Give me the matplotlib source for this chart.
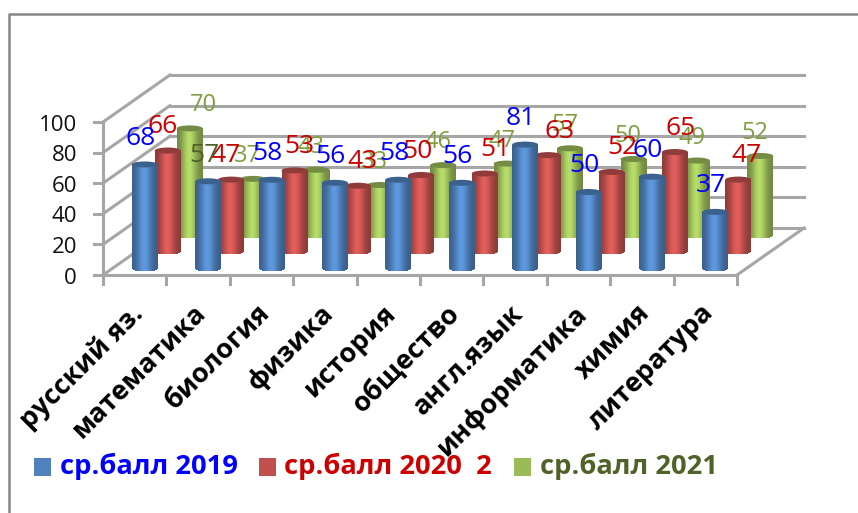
import numpy as np
import matplotlib
matplotlib.use('Agg')
import matplotlib.pyplot as plt
from matplotlib.transforms import Affine2D
from matplotlib.patches import Rectangle, Ellipse
from matplotlib.colors import to_rgb

plt.rcParams['font.family'] = ['Open Sans', 'DejaVu Sans']

categories = ['русский яз.', 'математика', 'биология', 'физика', 'история',
              'общество', 'англ.язык', 'информатика', 'химия', 'литература']
scores_2019 = [68, 57, 58, 56, 58, 56, 81, 50, 60, 37]
scores_2020 = [66, 47, 53, 43, 50, 51, 63, 52, 65, 47]
scores_2021 = [70, 37, 43, 33, 46, 47, 57, 50, 49, 52]
series_names = ['ср.балл 2019', 'ср.балл 2020  2', 'ср.балл 2021']
y_ticks = [0, 20, 40, 60, 80, 100]

W, H = 858, 513
fig = plt.figure(figsize=(W/100, H/100), dpi=100, facecolor='white')
L, R, B, T = 103, 737, 275, 122
ax = fig.add_axes([L/W, 1-B/H, (R-L)/W, (B-T)/H])
ax.set_xlim(0, len(categories))
ax.set_ylim(0, 100)
ax.axis('off')

# chart frame
bg = fig.add_axes([0, 0, 1, 1], zorder=-1)
bg.set_xlim(0, W); bg.set_ylim(H, 0); bg.axis('off')
bg.plot([9, 9, W], [H, 14, 14], color='#858585', lw=1.8)

DX, DY = 67, 47
gc = '#a6a6a6'
def depth(dx, dy):
    return ax.transData + Affine2D().translate(dx, dy)

t_back = depth(DX, DY)
t_tick = depth(0, -3)
for v in y_ticks:
    ax.plot([0, 10], [v, v], transform=t_back, color=gc, lw=2.2, clip_on=False, zorder=1)
    p0 = ax.transData.transform((0, v))
    bg.plot([p0[0], p0[0]+DX], [H-p0[1], H-p0[1]-DY], color=gc, lw=2.2, zorder=1)
    bg.plot([p0[0]-9, p0[0]], [H-p0[1], H-p0[1]], color=gc, lw=2.2)
    ax.text(-0.41, v, str(v), ha='right', va='center', fontsize=16, clip_on=False,
            color='#111111', transform=t_tick)
# left wall axis, front floor edge and right floor edge
ax.plot([0, 0], [0, 100], color=gc, lw=2.2, clip_on=False, zorder=1)
ax.plot([0, 10], [0, 0], color=gc, lw=2.2, clip_on=False, zorder=1)
pr = ax.transData.transform((10, 0))
bg.plot([pr[0], pr[0]+DX], [H-pr[1], H-pr[1]-DY], color=gc, lw=2.2, zorder=1)
for i in range(len(categories)+1):
    p = ax.transData.transform((i, 0))
    bg.plot([p[0], p[0]], [H-p[1], H-p[1]+9], color=gc, lw=2.2)

# category labels
for i, c in enumerate(categories):
    ax.annotate(c, xy=(i+0.5, 0), xytext=(-5, -25), textcoords='offset pixels',
                rotation=45, rotation_mode='anchor', ha='right', va='top',
                fontsize=19.5, fontweight='bold', color='black', annotation_clip=False)

# cylinders
series = [scores_2019, scores_2020, scores_2021]
base_cols = ['#4f81bd', '#c0504d', '#9bbb59']
label_cols = ['#0000ff', '#cc0000', '#7f9f3f']
row_dx = [10, 33, 55]
row_dy = [6.5, 23.5, 39.5]
label_sizes = [19, 19, 17]
label_dx = [[-4]*10,
            [-5, -6, 5, 5, -4, 11, 11, 11, 6, 8],
            [14, -6, -5, -5, -5, -5, -5, -5, -5, -5]]
label_dy = [26, 24, 23]

NS = 26
half_w = 13/63.4
ell = 3.0
xs = np.linspace(-1, 1, NS+1)
def shade(col, u):
    c = np.array(to_rgb(col))
    f = 0.72 + 0.46*np.exp(-((u+0.05)/0.55)**2)
    return np.clip(c*f, 0, 1)

for r in [2, 1, 0]:
    tf = depth(row_dx[r], row_dy[r])
    z = 10 + (2-r)*10
    for i, v in enumerate(series[r]):
        for k in range(NS):
            u = 0.5*(xs[k]+xs[k+1])
            sag = ell*np.sqrt(1-u*u)/(B-T)*100
            x0 = i+0.5+xs[k]*half_w
            w = (xs[k+1]-xs[k])*half_w
            ax.bar(x0, v+sag, width=w*1.05, bottom=-sag, align='edge', transform=tf,
                   color=shade(base_cols[r], u), lw=0, clip_on=False, zorder=z)
        ctr = tf.transform((i+0.5, v))
        lid = Ellipse(ctr, 2*13, 2*ell, transform=None, zorder=z+1,
                      facecolor=np.array(to_rgb(base_cols[r]))*0.75, edgecolor='none', clip_on=False)
        ax.add_patch(lid)
        ax.annotate(str(v), xy=(i+0.5, v), xycoords=tf,
                    xytext=(label_dx[r][i], label_dy[r]), textcoords='offset pixels',
                    ha='center', va='center', fontsize=label_sizes[r],
                    color='#4f6228' if (r == 0 and i == 1) else label_cols[r],
                    zorder=60, annotation_clip=False)

# legend
leg_text = ['#0000ff', '#cc0000', '#4f6228']
leg_sq = [34, 259, 514]
leg_tx = [60, 284, 540]
for name, col, tc, sx, tx in zip(series_names, base_cols, leg_text, leg_sq, leg_tx):
    bg.add_patch(Rectangle((sx, 458), 17, 18, facecolor=col, edgecolor='none'))
    bg.text(tx, 466, name, color=tc, fontsize=19.7, fontweight='bold', ha='left', va='center')

fig.savefig('out.png', dpi=100)
